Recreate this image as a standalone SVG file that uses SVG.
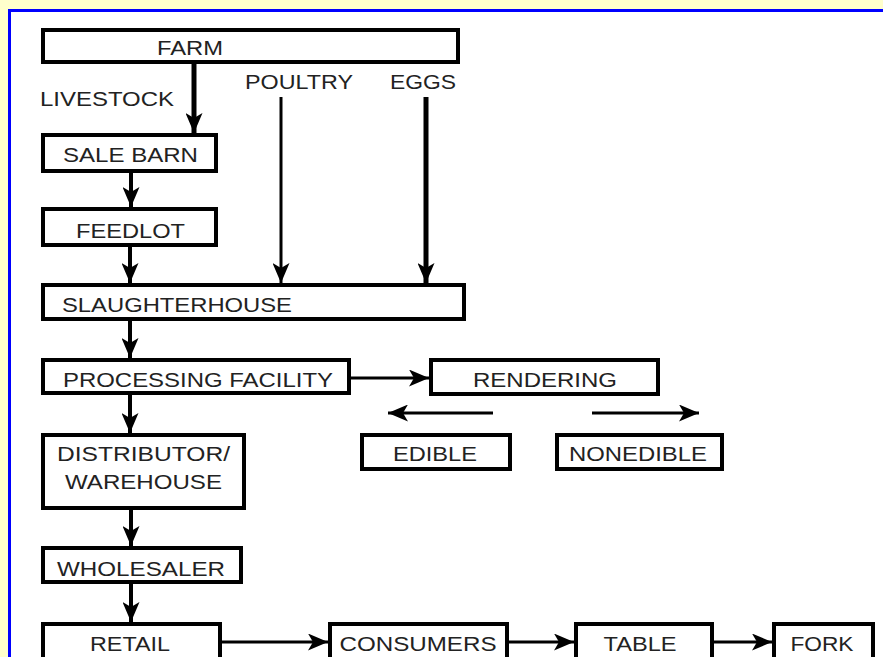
<svg xmlns="http://www.w3.org/2000/svg" width="883" height="657" viewBox="0 0 883 657">
<style>
.box{fill:#fff;stroke:#000;stroke-width:4}
.t{font-family:"Liberation Sans",Arial,Helvetica,sans-serif;font-size:21px;fill:#222;text-anchor:middle}
.c{stroke:#000;fill:none}
</style>
<defs>
<marker id="ah" markerUnits="userSpaceOnUse" viewBox="0 0 20 17" refX="20" refY="8.5" markerWidth="20" markerHeight="17" orient="auto">
<path d="M0,0 L20,8.5 L0,17 L5,8.5 Z" fill="#000"/>
</marker>
</defs>
<rect x="0" y="0" width="883" height="657" fill="#FFFFCC"/>
<rect x="9.5" y="10.5" width="900" height="700" fill="#fff" stroke="#0000FF" stroke-width="3"/>

<g id="connectors">
<line class="c" x1="194" y1="64" x2="194" y2="133" stroke-width="5" marker-end="url(#ah)"/>
<line class="c" x1="131" y1="173" x2="131" y2="207" stroke-width="4" marker-end="url(#ah)"/>
<line class="c" x1="130" y1="247" x2="130" y2="283" stroke-width="4" marker-end="url(#ah)"/>
<line class="c" x1="281" y1="97" x2="281" y2="283" stroke-width="3" marker-end="url(#ah)"/>
<line class="c" x1="426" y1="97" x2="426" y2="283" stroke-width="5" marker-end="url(#ah)"/>
<line class="c" x1="130" y1="321" x2="130" y2="358" stroke-width="4" marker-end="url(#ah)"/>
<line class="c" x1="351" y1="378" x2="429" y2="378" stroke-width="3" marker-end="url(#ah)"/>
<line class="c" x1="493" y1="413" x2="388" y2="413" stroke-width="3" marker-end="url(#ah)"/>
<line class="c" x1="592" y1="413" x2="699" y2="413" stroke-width="3" marker-end="url(#ah)"/>
<line class="c" x1="130" y1="395" x2="130" y2="433" stroke-width="4" marker-end="url(#ah)"/>
<line class="c" x1="131" y1="510" x2="131" y2="546" stroke-width="4" marker-end="url(#ah)"/>
<line class="c" x1="131" y1="584" x2="131" y2="622" stroke-width="4" marker-end="url(#ah)"/>
<line class="c" x1="222" y1="642" x2="328" y2="642" stroke-width="3" marker-end="url(#ah)"/>
<line class="c" x1="509" y1="642" x2="574" y2="642" stroke-width="3" marker-end="url(#ah)"/>
<line class="c" x1="714" y1="642" x2="772" y2="642" stroke-width="3" marker-end="url(#ah)"/>
</g>

<g id="labels">
<text class="t" x="107" y="106" textLength="134" lengthAdjust="spacingAndGlyphs">LIVESTOCK</text>
<text class="t" x="299" y="89" textLength="108" lengthAdjust="spacingAndGlyphs">POULTRY</text>
<text class="t" x="423" y="89" textLength="66" lengthAdjust="spacingAndGlyphs">EGGS</text>
</g>

<g id="farm"><rect class="box" x="43" y="30" width="415" height="32"/>
<text class="t" x="190" y="55" textLength="66" lengthAdjust="spacingAndGlyphs">FARM</text></g>
<g id="salebarn"><rect class="box" x="43" y="135" width="173" height="36"/>
<text class="t" x="130.5" y="162" textLength="135" lengthAdjust="spacingAndGlyphs">SALE BARN</text></g>
<g id="feedlot"><rect class="box" x="43" y="209" width="173" height="36"/>
<text class="t" x="130.5" y="238" textLength="109" lengthAdjust="spacingAndGlyphs">FEEDLOT</text></g>
<g id="slaughterhouse"><rect class="box" x="43" y="285" width="421" height="34" stroke-width="3.5"/>
<text class="t" x="177" y="312" textLength="230" lengthAdjust="spacingAndGlyphs">SLAUGHTERHOUSE</text></g>
<g id="processing"><rect class="box" x="43" y="360" width="306" height="33"/>
<text class="t" x="198" y="387" textLength="270" lengthAdjust="spacingAndGlyphs">PROCESSING FACILITY</text></g>
<g id="rendering"><rect class="box" x="431" y="360" width="227" height="34"/>
<text class="t" x="545" y="387" textLength="144" lengthAdjust="spacingAndGlyphs">RENDERING</text></g>
<g id="edible"><rect class="box" x="362" y="435" width="148" height="34"/>
<text class="t" x="435" y="461" textLength="84" lengthAdjust="spacingAndGlyphs">EDIBLE</text></g>
<g id="nonedible"><rect class="box" x="557" y="435" width="165" height="34"/>
<text class="t" x="638" y="461" textLength="138" lengthAdjust="spacingAndGlyphs">NONEDIBLE</text></g>
<g id="distributor"><rect class="box" x="43" y="435" width="201" height="73"/>
<text class="t" x="143.5" y="461" textLength="173" lengthAdjust="spacingAndGlyphs">DISTRIBUTOR/</text>
<text class="t" x="143.5" y="489" textLength="157" lengthAdjust="spacingAndGlyphs">WAREHOUSE</text></g>
<g id="wholesaler"><rect class="box" x="43" y="548" width="198" height="34"/>
<text class="t" x="141" y="576" textLength="168" lengthAdjust="spacingAndGlyphs">WHOLESALER</text></g>
<g id="retail"><rect class="box" x="43" y="624" width="177" height="40"/>
<text class="t" x="130" y="651" textLength="80" lengthAdjust="spacingAndGlyphs">RETAIL</text></g>
<g id="consumers"><rect class="box" x="330" y="624" width="177" height="40"/>
<text class="t" x="418" y="651" textLength="157" lengthAdjust="spacingAndGlyphs">CONSUMERS</text></g>
<g id="table"><rect class="box" x="576" y="624" width="136" height="40"/>
<text class="t" x="640" y="651" textLength="73" lengthAdjust="spacingAndGlyphs">TABLE</text></g>
<g id="fork"><rect class="box" x="774" y="624" width="99" height="40"/>
<text class="t" x="822" y="651" textLength="63" lengthAdjust="spacingAndGlyphs">FORK</text></g>
</svg>
